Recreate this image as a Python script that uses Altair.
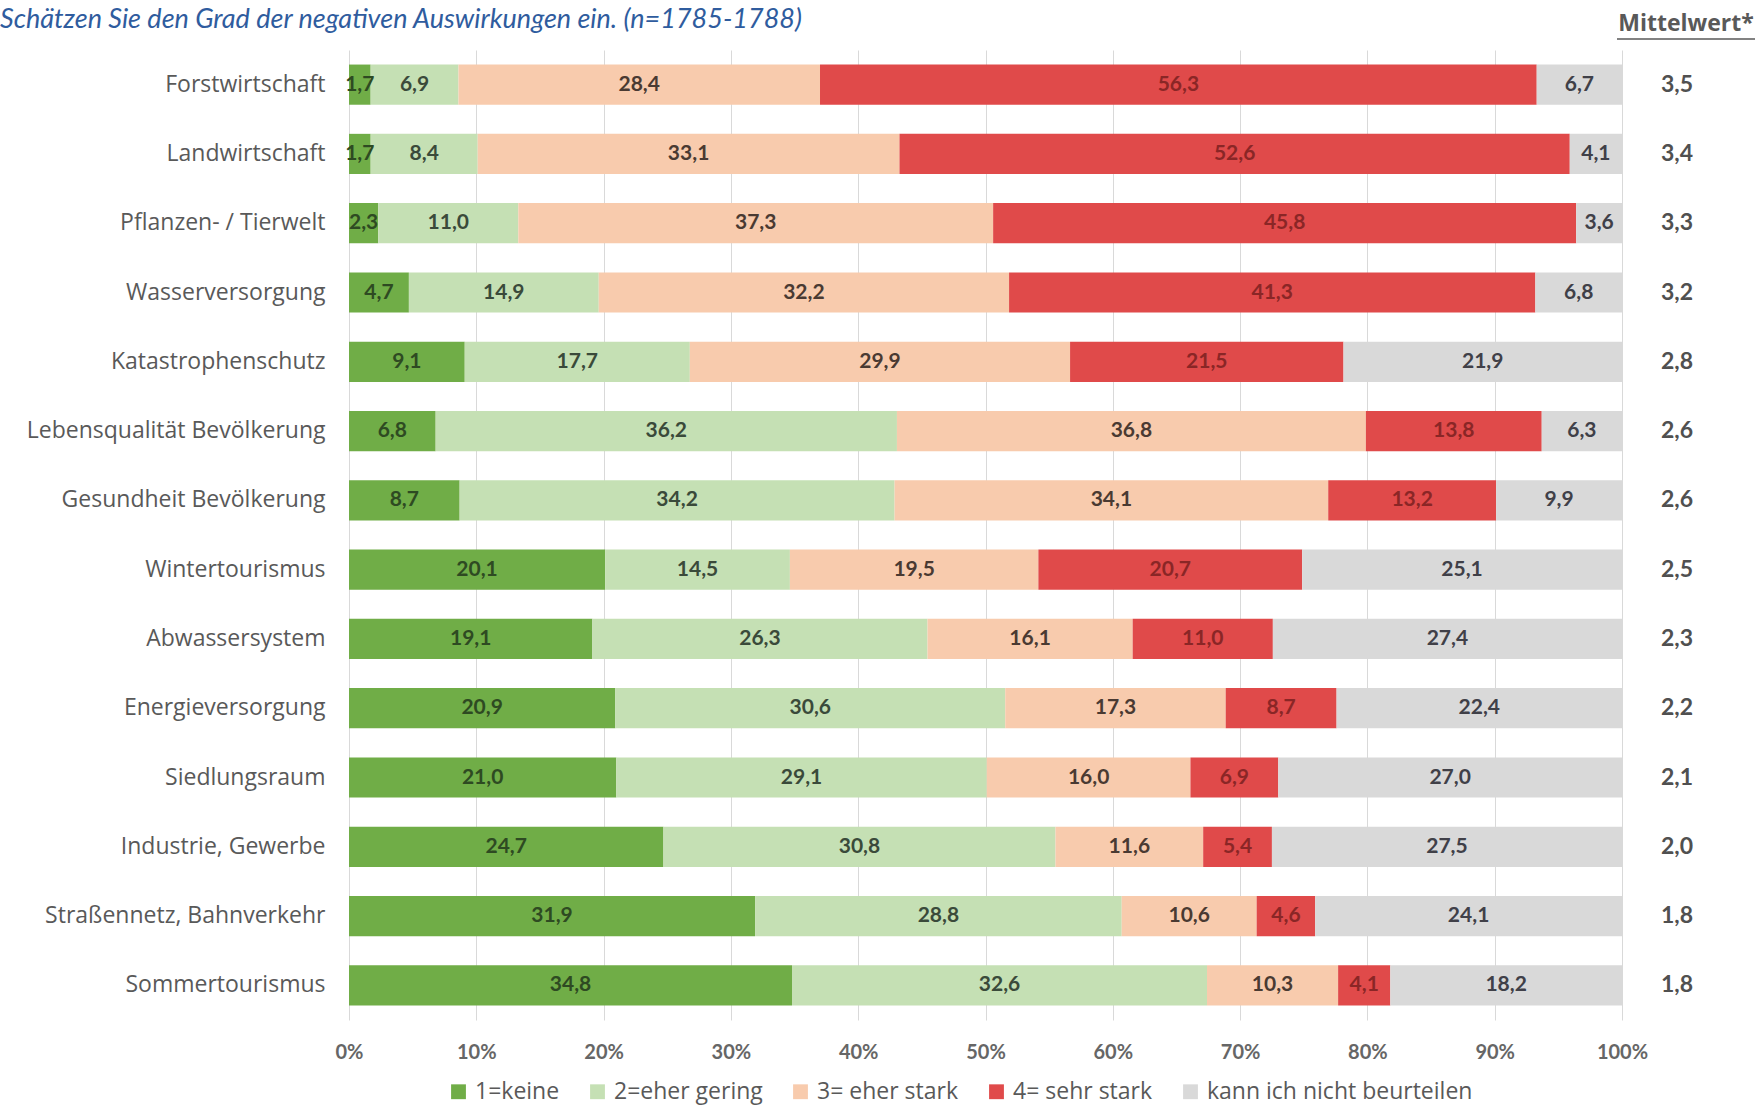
import altair as alt
import pandas as pd

categories = [
    "Forstwirtschaft", "Landwirtschaft", "Pflanzen- / Tierwelt", "Wasserversorgung",
    "Katastrophenschutz", "Lebensqualität Bevölkerung", "Gesundheit Bevölkerung",
    "Wintertourismus", "Abwassersystem", "Energieversorgung", "Siedlungsraum",
    "Industrie, Gewerbe", "Straßennetz, Bahnverkehr", "Sommertourismus",
]
responses = ["1=keine", "2=eher gering", "3= eher stark", "4= sehr stark", "kann ich nicht beurteilen"]

keine = [1.7, 1.7, 2.3, 4.7, 9.1, 6.8, 8.7, 20.1, 19.1, 20.9, 21.0, 24.7, 31.9, 34.8]
gering = [6.9, 8.4, 11.0, 14.9, 17.7, 36.2, 34.2, 14.5, 26.3, 30.6, 29.1, 30.8, 28.8, 32.6]
eher_stark = [28.4, 33.1, 37.3, 32.2, 29.9, 36.8, 34.1, 19.5, 16.1, 17.3, 16.0, 11.6, 10.6, 10.3]
sehr_stark = [56.3, 52.6, 45.8, 41.3, 21.5, 13.8, 13.2, 20.7, 11.0, 8.7, 6.9, 5.4, 4.6, 4.1]
nicht = [6.7, 4.1, 3.6, 6.8, 21.9, 6.3, 9.9, 25.1, 27.4, 22.4, 27.0, 27.5, 24.1, 18.2]
mittelwert = [3.5, 3.4, 3.3, 3.2, 2.8, 2.6, 2.6, 2.5, 2.3, 2.2, 2.1, 2.0, 1.8, 1.8]

bar_colors = ["#70AD47", "#C5E0B4", "#F8CBAD", "#E04A4A", "#D9D9D9"]
text_colors = ["#2E4A22", "#3A4A3A", "#4A3A32", "#8A2626", "#404048"]

FONT = "Lato"
FONT2 = "Open Sans"

series = [keine, gering, eher_stark, sehr_stark, nicht]
rows = []
for i, cat in enumerate(categories):
    vals = [s[i] for s in series]
    total = sum(vals)
    start = 0.0
    for j, r in enumerate(responses):
        v = vals[j] / total * 100
        rows.append({
            "category": cat, "response": r, "order": j,
            "start": start, "end": start + v, "mid": start + v / 2,
            "label": f"{vals[j]:.1f}".replace(".", ","),
        })
        start += v
df = pd.DataFrame(rows)
mean_df = pd.DataFrame({"category": categories,
                        "mw": [f"{m:.1f}".replace(".", ",") for m in mittelwert]})

W, H = 1273, 970

y_enc = alt.Y("category:N", sort=categories,
              scale=alt.Scale(paddingInner=0.42, paddingOuter=0.21),
              axis=alt.Axis(title=None, domain=False, ticks=False, labelFont=FONT2,
                            labelFontSize=23, labelColor="#595959", labelPadding=24,
                            labelLimit=400))

bars = alt.Chart(df).mark_bar().encode(
    x=alt.X("start:Q", scale=alt.Scale(domain=[0, 100], nice=False),
            axis=alt.Axis(title=None, values=list(range(0, 101, 10)),
                          labelExpr="datum.value + '%'", domain=False, ticks=False,
                          grid=True, gridColor="#D9D9D9", gridWidth=1, labelFlush=False,
                          labelFont=FONT, labelFontSize=20, labelFontWeight="bold",
                          labelColor="#666666", labelPadding=22)),
    x2="end:Q",
    y=y_enc,
    color=alt.Color("response:N", sort=responses,
                    scale=alt.Scale(domain=responses, range=bar_colors),
                    legend=alt.Legend(title=None, orient="none", direction="horizontal",
                                      legendX=98, legendY=1030, symbolType="square",
                                      symbolSize=220, symbolStrokeWidth=0,
                                      labelFont=FONT2, labelFontSize=23, labelLimit=0,
                                      labelColor="#595959", columnPadding=26,
                                      symbolOffset=0, labelOffset=5)),
)

texts = alt.Chart(df).mark_text(font=FONT, fontSize=21, fontWeight="bold").encode(
    x=alt.X("mid:Q"),
    y=alt.Y("category:N", sort=categories),
    text="label:N",
    color=alt.Color("response:N", scale=alt.Scale(domain=responses, range=text_colors),
                    legend=None),
)

means = alt.Chart(mean_df).mark_text(font=FONT, fontSize=23, fontWeight="bold",
                                     color="#505050").encode(
    x=alt.value(1328),
    y=alt.Y("category:N", sort=categories),
    text="mw:N",
)

header = alt.Chart(pd.DataFrame({"t": ["Mittelwert*"]})).mark_text(
    font=FONT2, fontSize=23, fontWeight="bold", color="#595959", baseline="middle"
).encode(x=alt.value(1337), y=alt.value(-26), text="t:N")

underline = alt.Chart(pd.DataFrame({"t": ["u"]})).mark_rule(
    color="#595959", strokeWidth=1.5
).encode(x=alt.value(1268), x2=alt.value(1406), y=alt.value(-11))

title = alt.Chart(pd.DataFrame({"t": ["Schätzen Sie den Grad der negativen Auswirkungen ein. (n=1785-1788)"]})).mark_text(
    font=FONT, fontSize=27, fontStyle="italic", color="#2F5C9E", align="left",
    baseline="middle"
).encode(x=alt.value(-349), y=alt.value(-30), text="t:N")

chart = alt.layer(bars, texts, means, header, underline, title).resolve_scale(
    color="independent"
).properties(
    width=W, height=H,
    padding={"left": 349, "top": 50, "right": 137, "bottom": 85},
    autosize=alt.AutoSizeParams(type="none"),
).configure_view(stroke=None)

chart.save("out.html", embed_options={"renderer": "svg", "actions": False})
